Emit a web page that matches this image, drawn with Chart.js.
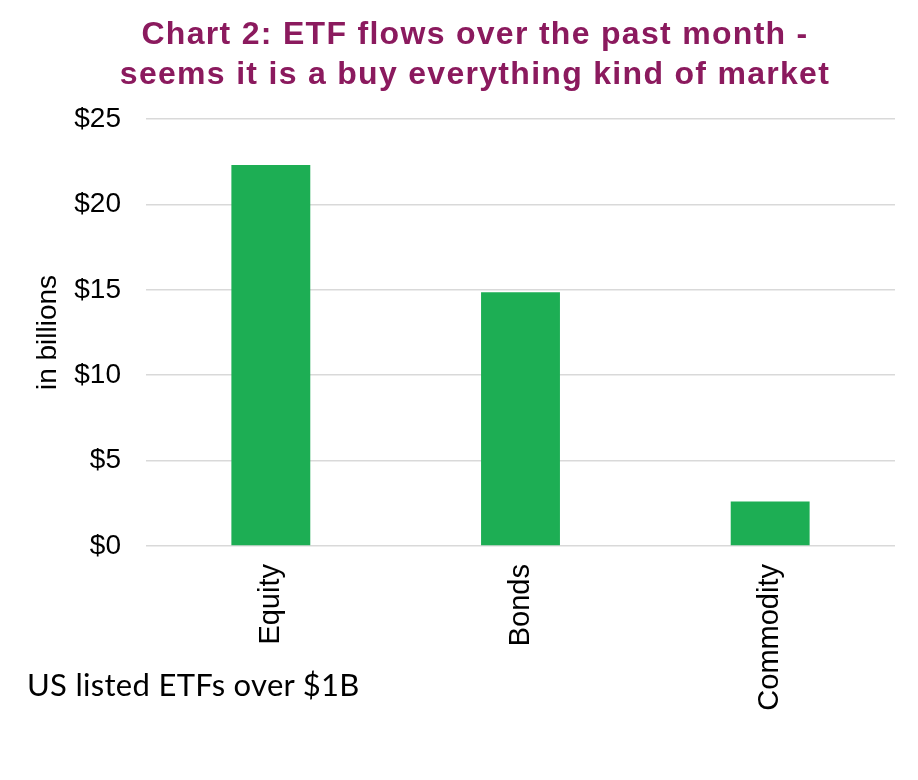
<!DOCTYPE html>
<html>
<head>
<meta charset="utf-8">
<script src="https://cdn.jsdelivr.net/npm/chart.js@4/dist/chart.umd.min.js"></script>
<style>
  html, body { margin: 0; padding: 0; background: #fff; }
  #wrap { position: relative; width: 918px; height: 780px; }
  #title {
    position: absolute; left: 0; top: 13px; width: 950px; text-align: center;
    font-family: "Liberation Sans", Arial, sans-serif; font-weight: bold;
    font-size: 32px; line-height: 40px; letter-spacing: 1.3px; color: #8b1a5e;
  }
  #note {
    position: absolute; left: 27px; top: 665px;
    font-family: Lato, "Open Sans", sans-serif; font-size: 31px; letter-spacing: 0.3px; color: #000;
  }
</style>
</head>
<body>
<div id="wrap">
  <canvas id="chartCanvas" width="918" height="780"></canvas>
  <div id="title">Chart 2: ETF flows over the past month -<br>seems it is a buy everything kind of market</div>
  <div id="note">US listed ETFs over $1B</div>
</div>
<script>
const categories = ["Equity", "Bonds", "Commodity"];
const flows = [22.3, 14.85, 2.6];
const yTicks = [0, 5, 10, 15, 20, 25];

const ctx = document.getElementById("chartCanvas").getContext("2d");
const fam = "'Liberation Sans', Arial, sans-serif";

new Chart(ctx, {
  type: 'bar',
  data: {
    labels: categories,
    datasets: [{
      label: 'Flows',
      data: flows,
      backgroundColor: '#1dae54',
      categoryPercentage: 1,
      barPercentage: 0.316
    }]
  },
  options: {
    responsive: false,
    animation: false,
    layout: { padding: { top: 119, right: 23, left: 0, bottom: 0 } },
    plugins: {
      legend: { display: false },
      title: { display: false },
      tooltip: { enabled: false }
    },
    scales: {
      x: {
        grid: { display: false },
        border: { display: false },
        ticks: { color: '#000', font: { family: fam, size: 29 }, minRotation: 90, maxRotation: 90, padding: 10 },
        afterFit: s => { s.height = 234; }
      },
      y: {
        min: 0, max: 25,
        afterBuildTicks: s => { s.ticks = yTicks.map(v => ({ value: v })); },
        grid: { color: '#d9d9d9', lineWidth: 1.5, drawTicks: false },
        border: { display: false },
        ticks: { color: '#000', font: { family: fam, size: 28 }, padding: 25, callback: v => '$' + v },
        title: { display: true, text: 'in billions', color: '#000', font: { family: fam, size: 28 }, padding: { top: 31, bottom: 0 } },
        afterFit: s => { s.width = 146; }
      }
    }
  }
});
</script>
</body>
</html>
